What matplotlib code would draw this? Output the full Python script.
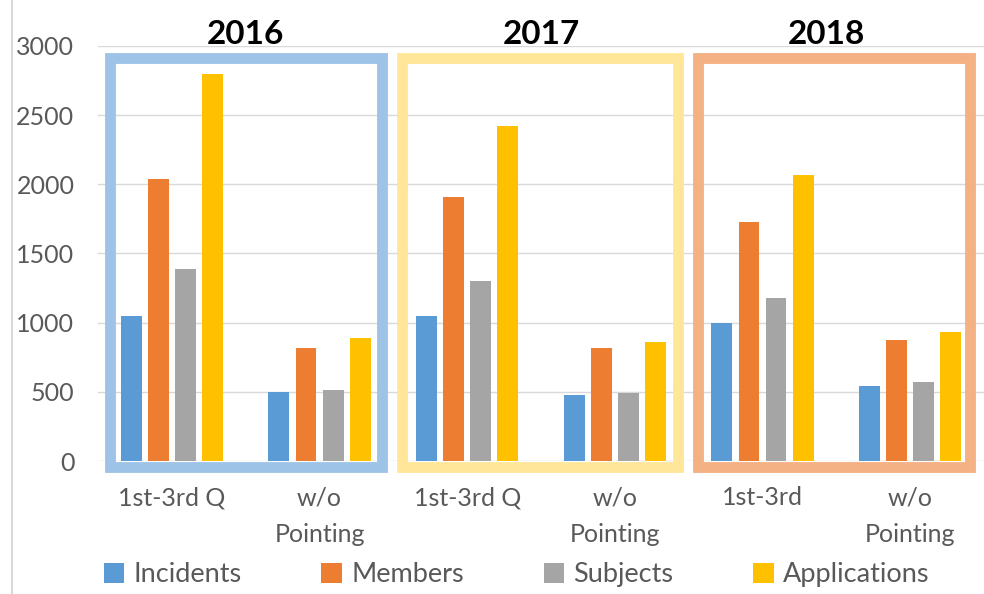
import numpy as np
import matplotlib.pyplot as plt
from matplotlib.patches import Rectangle
from matplotlib.lines import Line2D

plt.rcParams['font.family'] = ['Lato', 'DejaVu Sans']

categories = ['1st-3rd Q', 'w/o\nPointing', '1st-3rd Q', 'w/o\nPointing', '1st-3rd', 'w/o\nPointing']
years = ['2016', '2017', '2018']
incidents = [1050, 500, 1045, 475, 1000, 545]
members = [2040, 820, 1910, 820, 1730, 875]
subjects = [1390, 515, 1300, 490, 1180, 570]
applications = [2800, 890, 2420, 860, 2070, 930]

series = [('Incidents', incidents, '#5B9BD5'),
          ('Members', members, '#ED7D31'),
          ('Subjects', subjects, '#A5A5A5'),
          ('Applications', applications, '#FFC000')]

fig = plt.figure(figsize=(9.84, 5.94), dpi=100)
ax = fig.add_axes([0.0996, 0.2239, 0.9004, 0.6987])

x = np.arange(len(categories))
step = 0.183
width = 0.142
for i, (name, vals, col) in enumerate(series):
    ax.bar(x + (i - 1.5) * step, vals, width, color=col, label=name, zorder=3)

ax.set_xlim(-0.5, 5.5)
ax.set_ylim(0, 3000)
ax.set_yticks(range(0, 3001, 500))
ax.grid(axis='y', color='#D9D9D9', lw=1, zorder=0)
ax.set_axisbelow(True)
for s in ax.spines.values():
    s.set_visible(False)
ax.tick_params(length=0, labelsize=18, colors='#595959')
ax.tick_params(axis='y', pad=17)
ax.tick_params(axis='x', pad=18)
ax.set_xticks(x)
ax.set_xticklabels(categories, linespacing=1.75)

# year boxes
boxes = [(-0.419, 1.423, '#9DC3E6'), (1.559, 3.428, '#FFE699'), (3.563, 5.405, '#F4B183')]
for x0, x1, col in boxes:
    ax.add_patch(Rectangle((x0, -45), x1 - x0, 2955, fill=False, ec=col,
                           lw=7.8, clip_on=False, zorder=4))

title_x = [0.5, 2.5, 4.43]
for tx, yr in zip(title_x, years):
    ax.text(tx, 3080, yr, ha='center', va='center', fontsize=24,
            fontweight='bold', color='black', clip_on=False)

fig.add_artist(Line2D([0.012, 0.012], [0, 1], color='#D9D9D9', lw=1.5))

fig.legend(loc='lower center', ncol=4, frameon=False, fontsize=19.5,
           bbox_to_anchor=(0.525, -0.03), handlelength=0.75, handleheight=0.75,
           columnspacing=2.95, handletextpad=0.35, labelcolor='#595959')

fig.savefig('out.png', dpi=100)
